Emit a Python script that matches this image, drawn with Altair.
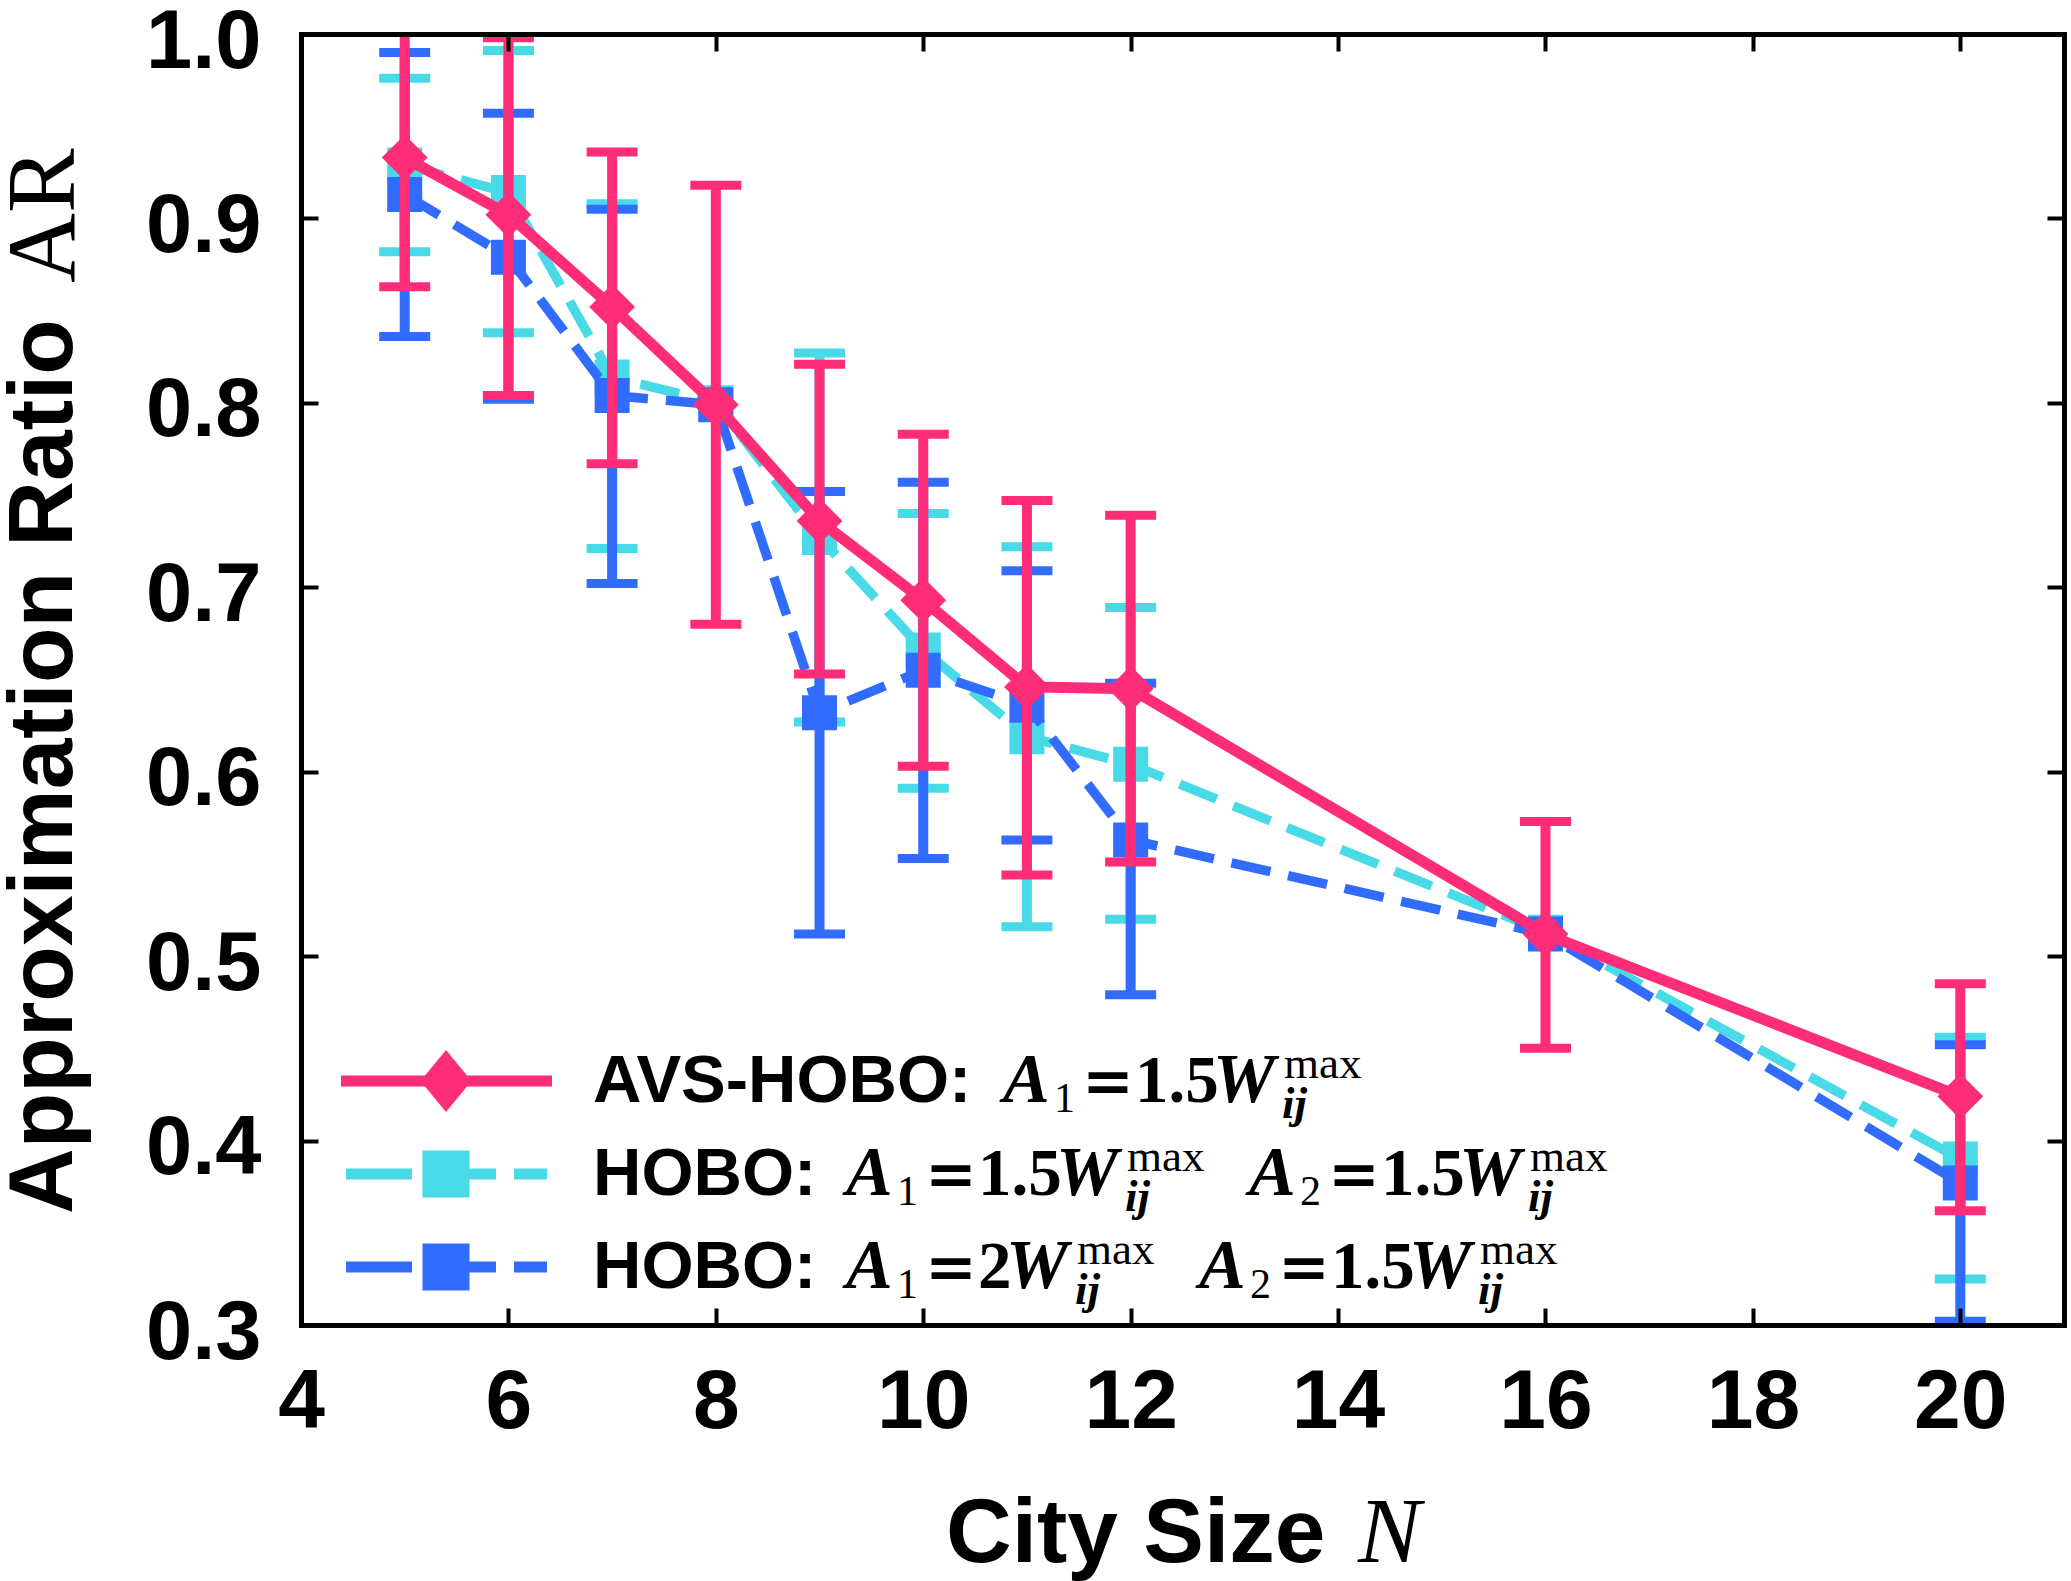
import altair as alt
import pandas as pd

# ---------------- data ----------------
N = [5, 6, 7, 8, 9, 10, 11, 12, 16, 20]

avs_mean = [0.933, 0.902, 0.852, 0.799, 0.736, 0.693, 0.646, 0.645, 0.512, 0.424]
avs_lo = [0.863, 0.804, 0.767, 0.680, 0.653, 0.603, 0.544, 0.551, 0.450, 0.362]
avs_hi = [1.003, 0.998, 0.936, 0.918, 0.821, 0.783, 0.747, 0.739, 0.573, 0.485]

h15_mean = [0.929, 0.914, 0.814, 0.800, 0.727, 0.666, 0.619, 0.604, 0.513, 0.390]
h15_lo = [0.882, 0.838, 0.721, None, 0.627, 0.591, 0.516, 0.520, None, 0.325]
h15_hi = [0.976, 0.991, 0.908, None, 0.827, 0.740, 0.722, 0.689, None, 0.456]

h2_mean = [0.913, 0.879, 0.804, 0.799, 0.632, 0.655, 0.636, 0.563, 0.512, 0.377]
h2_lo = [0.836, 0.802, 0.702, None, 0.512, 0.553, 0.563, 0.479, None, 0.302]
h2_hi = [0.990, 0.957, 0.905, None, 0.752, 0.757, 0.709, 0.648, None, 0.452]

x_ticks = [4, 6, 8, 10, 12, 14, 16, 18, 20]
y_ticks = [0.3, 0.4, 0.5, 0.6, 0.7, 0.8, 0.9, 1.0]

# ---------------- style ----------------
PINK = "#FF2D78"
CYAN = "#48DAE6"
BLUE = "#326CFF"
W, H = 1763, 1291
SANS = "Liberation Sans"
SERIF = "Liberation Serif"
DSERIF = "DejaVu Serif"

xsc = alt.Scale(domain=[4, 21], nice=False, zero=False)
ysc = alt.Scale(domain=[0.3, 1.0], nice=False, zero=False)


def series(mean, lo, hi, color, dash, shape, size, lw):
    df = pd.DataFrame({"N": N, "mean": mean, "lo": lo, "hi": hi})
    base = alt.Chart(df)
    X = alt.X("N:Q", scale=xsc, axis=None)
    err = base.transform_filter("isValid(datum.lo) && isValid(datum.hi)")
    bars = err.mark_rule(color=color, strokeWidth=10, clip=True).encode(
        x=X, y=alt.Y("lo:Q", scale=ysc, axis=None), y2="hi:Q")
    cap_lo = err.mark_tick(orient="horizontal", size=51, thickness=9, color=color,
                           opacity=1, clip=True).encode(
        x=X, y=alt.Y("lo:Q", scale=ysc, axis=None))
    cap_hi = err.mark_tick(orient="horizontal", size=51, thickness=9, color=color,
                           opacity=1, clip=True).encode(
        x=X, y=alt.Y("hi:Q", scale=ysc, axis=None))
    kw = dict(color=color, strokeWidth=lw)
    if dash:
        kw["strokeDash"] = dash
    line = base.mark_line(**kw).encode(x=X, y=alt.Y("mean:Q", scale=ysc, axis=None))
    pts = base.mark_point(shape=shape, size=size, filled=True, opacity=1, color=color,
                          strokeWidth=0).encode(x=X, y=alt.Y("mean:Q", scale=ysc, axis=None))
    return [bars, cap_lo, cap_hi, line, pts]


# ---------------- axes (labels + inward ticks on all 4 sides) ----------------
axis_df = pd.DataFrame({"N": N, "mean": avs_mean})
lab_axes = alt.Chart(axis_df).mark_point(opacity=0).encode(
    x=alt.X("N:Q", scale=xsc, axis=alt.Axis(
        orient="bottom", values=x_ticks, ticks=False, tickSize=0, domain=False, grid=False,
        labelFont=SANS, labelFontWeight="bold", labelFontSize=84, labelColor="black",
        labelPadding=36, labelFlush=False, labelOverlap=False, title=None)),
    y=alt.Y("mean:Q", scale=ysc, axis=alt.Axis(
        orient="left", values=y_ticks, format=".1f", ticks=False, tickSize=0, domain=False,
        grid=False, labelFont=SANS, labelFontWeight="bold", labelFontSize=83,
        labelColor="black", labelPadding=40, labelOffset=8, labelOverlap=False, title=None)),
)


def tick_axis(orient, offset, values):
    return alt.Axis(orient=orient, offset=offset, values=values, labels=False, ticks=True,
                    tickSize=17, tickWidth=4, tickColor="black", domain=True, domainWidth=5,
                    domainColor="black", domainCap="square", grid=False, title=None, zindex=1)


frame_a = alt.Chart(axis_df).mark_point(opacity=0).encode(
    x=alt.X("N:Q", scale=xsc, axis=tick_axis("top", -H, x_ticks)),
    y=alt.Y("mean:Q", scale=ysc, axis=tick_axis("right", -W, y_ticks)),
)
frame_b = alt.Chart(axis_df).mark_point(opacity=0).encode(
    x=alt.X("N:Q", scale=xsc, axis=tick_axis("bottom", -H, x_ticks)),
    y=alt.Y("mean:Q", scale=ysc, axis=tick_axis("left", -W, y_ticks)),
)

# ---------------- text helpers ----------------
_one = pd.DataFrame({"k": [0]})


def label(text, x, y, size, font=SERIF, weight="normal", style="normal", angle=None):
    kw = dict(text=text, font=font, fontSize=size, fontWeight=weight, fontStyle=style,
              align="left", baseline="alphabetic", color="black")
    if angle is not None:
        kw["angle"] = angle
    return alt.Chart(_one).mark_text(**kw).encode(x=alt.value(x), y=alt.value(y))


# shift of the W part when the coefficient is "2" instead of "1.5"
NUM_SHIFT = {"1.5": 0, "2": -50}


def expr(x0, base, sub, num):
    s = NUM_SHIFT[num]
    return [
        label("A", x0 - 3, base, 70, weight="bold", style="italic"),
        label(sub, x0 + 48, base + 10, 42),
        label("=", x0 + 76, base, 62, font=DSERIF, weight="bold"),
        label(num, x0 + 129, base, 67, weight="bold"),
        label("W", x0 + 207 + s, base, 70, weight="bold", style="italic"),
        label("max", x0 + 278 + s, base - 24, 45),
        label("ij", x0 + 276 + s, base + 16, 45, weight="bold", style="italic"),
    ]


# ---------------- legend ----------------
rows = [1068, 1161, 1254]
leg = []
leg.append(alt.Chart(_one).mark_rule(color=PINK, strokeWidth=11).encode(
    x=alt.value(40), x2=alt.value(251), y=alt.value(rows[0] - 21)))
leg.append(alt.Chart(_one).mark_point(shape="M-1,0L0,-1.216L1,0L0,1.216Z", size=2601,
                                      filled=True, opacity=1, color=PINK, strokeWidth=0).encode(
    x=alt.value(145), y=alt.value(rows[0] - 21)))
for r, c in [(rows[1], CYAN), (rows[2], BLUE)]:
    leg.append(alt.Chart(_one).mark_rule(color=c, strokeWidth=11, strokeDash=[66, 18]).encode(
        x=alt.value(45), x2=alt.value(246), y=alt.value(r - 21)))
    leg.append(alt.Chart(_one).mark_point(shape="square", size=2209, filled=True, opacity=1,
                                          color=c, strokeWidth=0).encode(
        x=alt.value(145), y=alt.value(r - 21)))

leg.append(label("AVS-HOBO:", 292, rows[0], 67, font=SANS, weight="bold"))
leg.append(label("HOBO:", 292, rows[1], 67, font=SANS, weight="bold"))
leg.append(label("HOBO:", 292, rows[2], 67, font=SANS, weight="bold"))
leg += expr(705, rows[0], "1", "1.5")
leg += expr(548, rows[1], "1", "1.5")
leg += expr(951, rows[1], "2", "1.5")
leg += expr(548, rows[2], "1", "2")
leg += expr(901, rows[2], "2", "1.5")

# ---------------- titles ----------------
titles = [
    label("City Size", 645, 1528, 91, font=SANS, weight="bold"),
    label("N", 1057, 1528, 94, font=SERIF, style="italic"),
    label("Approximation Ratio", -229, 1180, 91, font=SANS, weight="bold", angle=270),
    label("AR", -227, 249, 97, font=SERIF, angle=270),
]

layers = [lab_axes, frame_a, frame_b]
layers += series(h15_mean, h15_lo, h15_hi, CYAN, [40, 18], "square", 1225, 9.5)
layers += series(h2_mean, h2_lo, h2_hi, BLUE, [40, 18], "square", 1225, 9.5)
layers += series(avs_mean, avs_lo, avs_hi, PINK, None, "diamond", 2100, 11)
layers += leg + titles

chart = alt.layer(*layers).resolve_axis(x="independent", y="independent").properties(
    width=W, height=H,
    autosize=alt.AutoSizeParams(type="none"),
    padding={"left": 301, "top": 34, "right": 7, "bottom": 256},
    background="white",
).configure_view(stroke=None)

chart.save("out.html", embed_options={"renderer": "svg", "actions": False})
